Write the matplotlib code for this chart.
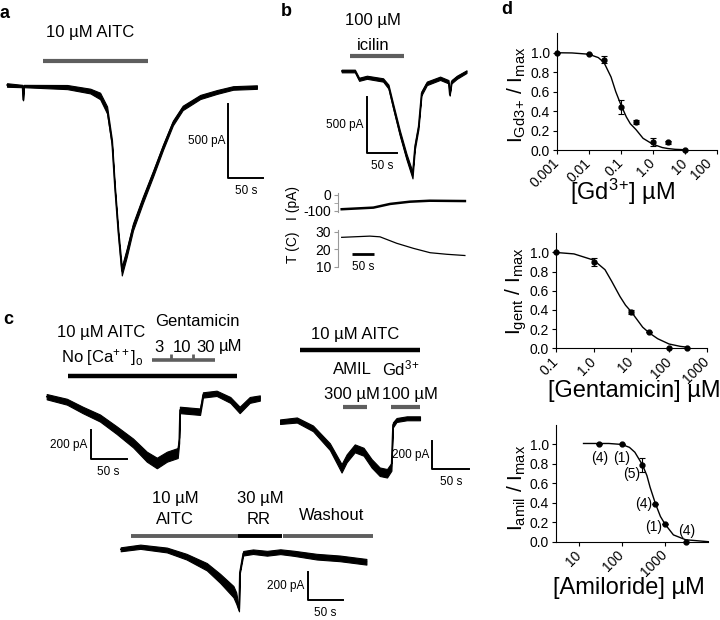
import numpy as np
import matplotlib.pyplot as plt
from matplotlib.transforms import ScaledTranslation

plt.rcParams['font.family'] = ['Liberation Sans', 'DejaVu Sans']
plt.rcParams['mathtext.fontset'] = 'custom'
plt.rcParams['mathtext.rm'] = 'Liberation Sans'
plt.rcParams['mathtext.it'] = 'Liberation Sans'
plt.rcParams['mathtext.bf'] = 'Liberation Sans:bold'

SANS = ['Liberation Sans', 'DejaVu Sans']
GREY = '#5e5e5e'

# ---------------- data (time in s, current in pA) ----------------
# a: 10 uM AITC
a_t = [0, 22, 23, 24, 86, 119, 133, 143, 150, 154, 159, 164, 171, 180, 194,
       209, 223, 237, 251, 276, 300, 323, 357]
a_i = [0, -7, -101, -7, -14, -41, -74, -169, -392, -689, -1000, -1257, -1135,
       -959, -777, -595, -419, -257, -155, -81, -47, -20, -14]
a_hw = [12, 8, 3, 8, 14, 16, 22, 24, 20, 18, 20, 30, 28, 24, 22, 20, 18, 16,
        15, 14, 13, 12, 12]
a_aitc = [51, 201]

# b: 100 uM icilin
b_t = [0, 22, 29, 42, 69, 78, 86, 97, 108, 118, 122, 128, 133, 142, 164,
       178, 180, 183, 192, 208]
b_i = [0, 0, -74, -56, -80, -140, -319, -556, -765, -929, -676, -497, -199,
       -110, -65, -96, -214, -96, -56, -6]
b_hw = [12, 12, 14, 14, 15, 18, 22, 24, 26, 30, 22, 20, 18, 16, 15, 15, 6,
        15, 14, 12]
b_icilin = [14, 104]

# b lower: holding current and bath temperature
bi_t = [0, 72, 110, 155, 200, 280]
bi_i = [-89, -79, -56, -42, -36, -38]
bT_t = [0, 64, 87, 125, 163, 201, 239, 280]
bT_c = [26.8, 27.5, 27.1, 23.4, 20.5, 18.0, 17.1, 16.4]

# c left: AITC in 0 Ca, gentamicin 3/10/30 uM
cl_t = [0, 28, 50, 74, 97, 120, 139, 153, 167, 182, 184, 185, 213, 216, 217,
        236, 255, 268, 282, 296]
cl_i = [0, -34, -90, -145, -227, -315, -408, -451, -408, -383, -295, -90,
        -102, -22, 12, 23, -22, -90, -22, -9]
cl_hw = [18, 20, 22, 24, 26, 30, 34, 36, 34, 34, 20, 22, 22, 18, 18, 18, 20,
         22, 20, 18]
cl_aitc = [30, 264]
cl_gent = [146, 234]
cl_gent_steps = [173, 203]

# c right: AITC, amiloride 300 uM, Gd3+ 100 uM
cr_t = [0, 23, 45, 68, 84, 91, 102, 114, 125, 136, 146, 152, 154, 159, 173, 191]
cr_i = [0, 12, -47, -176, -329, -258, -188, -212, -294, -353, -364, -318,
        -23, 12, 24, 24]
cr_hw = [16, 18, 20, 24, 30, 28, 28, 28, 30, 30, 30, 28, 18, 14, 14, 14]
cr_aitc = [27, 191]
cr_amil = [86, 119]
cr_gd = [151, 191]

# c bottom: AITC, ruthenium red, washout
cb_t = [0, 28, 66, 94, 123, 142, 161, 165, 169, 170, 175, 189, 209, 228, 247,
        280, 313, 351]
cb_i = [0, 18, -5, -52, -123, -205, -299, -344, -428, -167, -28, -17, -28,
        -17, -28, -52, -64, -88]
cb_hw = [14, 15, 17, 20, 26, 32, 40, 40, 10, 8, 16, 16, 17, 17, 18, 20, 20, 20]
cb_aitc = [15, 167]
cb_rr = [167, 231]
cb_wash = [232, 360]

# d: concentration-response
gd_x = [0.001, 0.01, 0.03, 0.1, 0.3, 1.0, 3.0, 10]
gd_y = [1.0, 0.99, 0.93, 0.44, 0.29, 0.08, 0.08, 0.0]
gd_err = [0, 0, 0.04, 0.07, 0.02, 0.04, 0.015, 0]
gd_fit_x = [0.001, 0.003, 0.01, 0.02, 0.03, 0.05, 0.07, 0.1, 0.15, 0.2, 0.3,
            0.5, 1, 2, 3, 5, 10]
gd_fit_y = [1.0, 0.998, 0.985, 0.95, 0.9, 0.75, 0.6, 0.47, 0.34, 0.27, 0.21,
            0.12, 0.06, 0.025, 0.015, 0.007, 0.003]

gent_x = [0.1, 1.0, 10, 30, 100, 300]
gent_y = [1.0, 0.9, 0.38, 0.17, 0.0, 0.0]
gent_err = [0, 0.04, 0.02, 0, 0, 0]
gent_fit_x = [0.1, 0.3, 1, 2, 3, 5, 7, 10, 20, 30, 50, 100, 200, 300]
gent_fit_y = [1.0, 0.985, 0.92, 0.82, 0.7, 0.54, 0.45, 0.38, 0.22, 0.16, 0.1,
              0.045, 0.02, 0.012]

amil_x = [30, 100, 300, 600, 1000, 3000]
amil_y = [1.0, 1.0, 0.79, 0.39, 0.18, 0.0]
amil_err = [0, 0, 0.07, 0, 0, 0]
amil_n = ['(4)', '(1)', '(5)', '(4)', '(1)', '(4)']
amil_fit_x = [13, 50, 100, 150, 200, 300, 380, 450, 600, 780, 1000, 1560,
              3000, 10000]
amil_fit_y = [1.01, 1.01, 1.0, 0.97, 0.92, 0.79, 0.68, 0.56, 0.39, 0.26, 0.18,
              0.07, 0.02, 0.0]

# ---------------- figure helpers ----------------
W, H = 720, 620
fig = plt.figure(figsize=(7.2, 6.2), dpi=100)


def fx(x):
    return x / W


def fy(y):
    return 1 - y / H


def txt(x, y, s, size=12, **kw):
    fig.text(fx(x), fy(y), s, fontsize=size, family=SANS,
             ha=kw.pop('ha', 'center'), va=kw.pop('va', 'center'), **kw)


def axes_px(l, t, r, b):
    return fig.add_axes([fx(l), fy(b), (r - l) / W, (b - t) / H])


def trace_ax(box, origin, sx, sy):
    # box in pixels, origin = pixel of t=0 / I=0, sx px per s, sy px per pA
    l, t, r, b = box
    x0, y0 = origin
    ax = axes_px(l, t, r, b)
    ax.set_xlim((l - x0) / sx, (r - x0) / sx)
    ax.set_ylim((y0 - b) / sy, (y0 - t) / sy)
    ax.axis('off')
    return ax


def draw_trace(ax, t, i, hw):
    t, i, hw = np.asarray(t), np.asarray(i), np.asarray(hw)
    ax.fill_between(t, i - hw, i + hw, color='black', lw=0.8)
    ax.plot(t, i, color='black', lw=1.0)


def drug_bar(ax, on_off, level, color=GREY, lw=3):
    ax.plot(on_off, [level, level], color=color, lw=lw, solid_capstyle='butt')


def scale_bar(ax, t0, i0, dt, di, tlab, ilab):
    ax.plot([t0, t0, t0 + dt], [i0 + di, i0, i0], color='black', lw=1.4)
    ax.annotate(ilab, (t0, i0 + di / 2), xytext=(-2, 0),
                textcoords='offset points', ha='right', va='center',
                fontsize=8.5, family=SANS)
    ax.annotate(tlab, (t0 + dt / 2, i0), xytext=(0, -5),
                textcoords='offset points', ha='center', va='top',
                fontsize=8.5, family=SANS)


# panel letters
for lab, x, y in [('a', 5, 13), ('b', 286, 11), ('c', 8, 320), ('d', 507, 10)]:
    txt(x, y, lab, size=13, weight='bold')

# ---------------- a ----------------
ax = trace_ax((0, 0, 290, 300), (7, 85), 0.7, 0.148)
draw_trace(ax, a_t, a_i, a_hw)
drug_bar(ax, a_aitc, 162, lw=3)
scale_bar(ax, 316, -628, 50, 500, '50 s', '500 pA')
txt(90, 33, '10 µM AITC')

# ---------------- b ----------------
ax = trace_ax((300, 0, 480, 190), (341.7, 71), 0.6, 0.112)
draw_trace(ax, b_t, b_i, b_hw)
drug_bar(ax, b_icilin, 134, lw=3)
scale_bar(ax, 41.7, -732, 50, 500, '50 s', '500 pA')
txt(373, 21, '100 µM')
txt(373, 45, 'icilin')

xl = (-7.7, (480 - 341.7) / 0.44)
ax_i = axes_px(338.3, 192.7, 480, 211.8)
ax_i.plot(bi_t, bi_i, color='black', lw=1.8)
ax_i.set_xlim(xl)
ax_i.set_ylim(-105, 14)
ax_i.set_yticks([0, -100])
ax_i.set_yticklabels(['0', '-100'])
ax_i.set_yticks([-50], minor=True)

ax_T = axes_px(338.3, 230, 480, 266.7)
ax_T.plot(bT_t, bT_c, color='black', lw=0.9)
ax_T.plot([23, 73], [17.3, 17.3], color='black', lw=2, solid_capstyle='butt')
ax_T.set_xlim(xl)
ax_T.set_ylim(10, 31)
ax_T.set_yticks([10, 20, 30])
for a_ in (ax_i, ax_T):
    for s in ('top', 'right', 'bottom'):
        a_.spines[s].set_visible(False)
    a_.spines['left'].set_color('#999999')
    a_.xaxis.set_visible(False)
    a_.patch.set_visible(False)
    a_.tick_params(axis='y', which='both', colors='#999999', labelcolor='black',
                   labelsize=10, length=3, pad=2)
txt(363, 267, '50 s', size=8.5)
txt(293, 203, 'I (pA)', size=10, rotation=90)
txt(293, 247, 'T (C)', size=10, rotation=90)

# ---------------- c left ----------------
ax = trace_ax((0, 300, 290, 480), (46.7, 396.7), 0.72, 0.147)
draw_trace(ax, cl_t, cl_i, cl_hw)
drug_bar(ax, cl_aitc, 141, color='black', lw=3.2)
drug_bar(ax, cl_gent, 250, lw=2.6)
ax.vlines(cl_gent_steps, 250, 290, color=GREY, lw=2)
scale_bar(ax, 61, -426, 50, 200, '50 s', '200 pA')
txt(101, 333, '10 µM AITC')
txt(102, 357, r'No [Ca$^{\mathregular{++}}$]$_{\mathregular{o}}$')
txt(197, 321, 'Gentamicin')
for s, x in [('3', 159), ('10', 182), ('30', 206), ('µM', 231)]:
    txt(x, 347, s)

# ---------------- c right ----------------
ax = trace_ax((280, 300, 480, 490), (280, 421.7), 0.733, 0.1417)
draw_trace(ax, cr_t, cr_i, cr_hw)
drug_bar(ax, cr_aitc, 505, color='black', lw=3.2)
drug_bar(ax, cr_amil, 104, lw=3)
drug_bar(ax, cr_gd, 104, lw=3)
scale_bar(ax, 208, -336, 50, 200, '50 s', '200 pA')
txt(355, 334, '10 µM AITC')
txt(352, 369, 'AMIL')
txt(401, 368, r'Gd$^{\mathregular{3}}$$^{\mathregular{+}}$')
txt(352, 394, '300 µM')
txt(410, 394, '100 µM')

# ---------------- c bottom ----------------
ax = trace_ax((100, 480, 400, 620), (120.7, 549.3), 0.7, 0.1417)
draw_trace(ax, cb_t, cb_i, cb_hw)
drug_bar(ax, cb_aitc, 96, lw=2.8)
drug_bar(ax, cb_rr, 96, color='black', lw=2.8)
drug_bar(ax, cb_wash, 96, lw=2.8)
scale_bar(ax, 267, -358, 50, 200, '50 s', '200 pA')
txt(175, 498, '10 µM')
txt(175, 520, 'AITC')
txt(260, 498, '30 µM')
txt(259, 520, 'RR')
txt(332, 516, 'Washout')


# ---------------- d ----------------
def dose_ax(box, xlim, xticks, xlabels):
    ax = axes_px(*box)
    ax.set_xscale('log')
    ax.set_xlim(xlim)
    ax.set_ylim(0, 1.2)
    ax.set_yticks([0, 0.2, 0.4, 0.6, 0.8, 1.0])
    ax.set_yticklabels(['0.0', '0.2', '0.4', '0.6', '0.8', '1.0'])
    ax.set_xticks(xticks)
    ax.set_xticklabels(xlabels, rotation=45, ha='right', va='center',
                       rotation_mode='anchor')
    ax.minorticks_off()
    ax.spines['top'].set_visible(False)
    ax.spines['right'].set_visible(False)
    ax.tick_params(labelsize=10, length=3, pad=2)
    ax.tick_params(axis='x', pad=5)
    ax.patch.set_visible(False)
    return ax


def dose_data(ax, fx_, fy_, x, y, err):
    ax.plot(fx_, fy_, color='black', lw=1, clip_on=False)
    ax.errorbar(x, y, yerr=err, fmt='o', color='black', ms=3.5, capsize=2,
                elinewidth=0.8, capthick=0.8, clip_on=False, zorder=3)


ax = dose_ax((556.7, 33.3, 716.7, 150), (0.001, 100),
             [0.001, 0.01, 0.1, 1, 10, 100],
             ['0.001', '0.01', '0.1', '1.0', '10', '100'])
dose_data(ax, gd_fit_x, gd_fit_y, gd_x, gd_y, gd_err)
# keep the last tick label inside the figure edge
last = ax.get_xticklabels()[-1]
last.set_transform(last.get_transform() +
                   ScaledTranslation(-5 / 72, 0, fig.dpi_scale_trans))
txt(623, 192, r'[Gd$^{\mathregular{3}}$$^{\mathregular{+}}$] µM', size=17)
txt(517, 95, r'$\mathrm{I}_{\mathrm{Gd3}}$$_{\mathrm{+}}$ / $\mathrm{I}_{\mathrm{max}}$',
    size=15, rotation=90)

ax = dose_ax((556, 233.3, 706.7, 348.3), (0.1, 1000),
             [0.1, 1, 10, 100, 1000], ['0.1', '1.0', '10', '100', '1000'])
dose_data(ax, gent_fit_x, gent_fit_y, gent_x, gent_y, gent_err)
txt(634, 391, '[Gentamicin] µM', size=17)
txt(516, 291, r'$\mathrm{I}_{\mathrm{gent}}$ / $\mathrm{I}_{\mathrm{max}}$',
    size=15, rotation=90)

ax = dose_ax((556, 425, 708.3, 541.7), (3, 10000),
             [10, 100, 1000], ['10', '100', '1000'])
dose_data(ax, amil_fit_x, amil_fit_y, amil_x, amil_y, amil_err)
offsets = [(0, -9.5), (0, -9.5), (-8, -6.5), (-8.5, 0), (-8, -2), (1, 8)]
for xv, yv, n, off in zip(amil_x, amil_y, amil_n, offsets):
    ax.annotate(n, (xv, yv), xytext=off, textcoords='offset points',
                ha='center', va='center', fontsize=10)
txt(629, 588, '[Amiloride] µM', size=17)
txt(517, 488, r'$\mathrm{I}_{\mathrm{amil}}$ / $\mathrm{I}_{\mathrm{max}}$',
    size=15, rotation=90)

fig.savefig('out.png', dpi=100)
